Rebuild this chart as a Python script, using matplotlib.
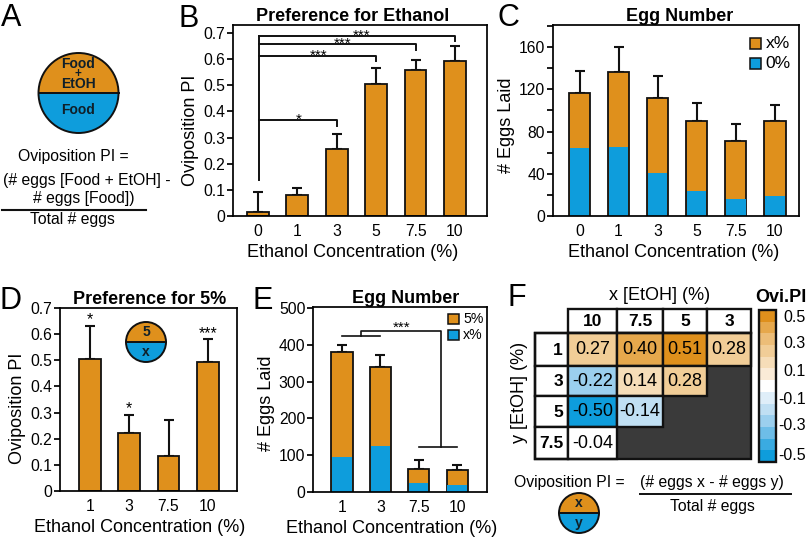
import numpy as np
import matplotlib
matplotlib.use('Agg')
import matplotlib.pyplot as plt
from matplotlib.colors import ListedColormap, BoundaryNorm
from matplotlib.patches import Circle, Wedge, Rectangle

plt.rcParams['font.family'] = ['Liberation Sans', 'DejaVu Sans']

W, H = 807, 537
ORANGE = '#DF901C'
BLUE = '#0E9DDC'
DARK = '#111111'

# panel B
conc_b = ['0', '1', '3', '5', '7.5', '10']
pref_b = [0.015, 0.08, 0.255, 0.505, 0.558, 0.592]
pref_b_err = [0.078, 0.028, 0.06, 0.06, 0.038, 0.06]

# panel C
eggs_total_c = [116, 136, 112, 90, 71, 90]
eggs_zero_c = [64, 65, 41, 24, 16, 19]
eggs_err_c = [21, 24, 21, 17, 16, 15]

# panel D
conc_d = ['1', '3', '7.5', '10']
pref_d = [0.505, 0.22, 0.135, 0.495]
pref_d_err = [0.125, 0.072, 0.135, 0.085]
stars_d = ['*', '*', '', '***']

# panel E
eggs_total_e = [380, 340, 63, 60]
eggs_x_e = [95, 125, 25, 18]
eggs_err_e = [20, 33, 25, 14]

# panel F
x_labels = ['10', '7.5', '5', '3']
y_labels = ['1', '3', '5', '7.5']
pi_values = [[0.27, 0.40, 0.51, 0.28],
             [-0.22, 0.14, 0.28, None],
             [-0.50, -0.14, None, None],
             [-0.04, None, None, None]]
cbar_ticks = [0.5, 0.3, 0.1, -0.1, -0.3, -0.5]
cbar_colors = ['#0E9DDC', '#3AABE1', '#6DBDE8', '#9BCFEE', '#C0DFF3', '#DFEEF9', '#FFFFFF',
               '#FAEBD7', '#F6DDB8', '#F1CD97', '#ECBD78', '#E6A84C', '#DF901C']


def px_axes(left, top, right, bottom):
    return fig.add_axes([left / W, 1 - bottom / H, (right - left) / W, (bottom - top) / H])


def style_axes(ax, ylabel, yticks, yticklabels, xlabel_x, ylabel_y, minor=None):
    for s in ax.spines.values():
        s.set_linewidth(1.25)
    ax.set_yticks(yticks)
    ax.set_yticklabels(yticklabels)
    if minor is not None:
        ax.set_yticks(minor, minor=True)
        ax.tick_params(axis='y', which='minor', width=1.25, length=4.5)
    ax.tick_params(axis='y', width=1.25, length=4.5, labelsize=11.3, pad=1)
    ax.tick_params(axis='x', length=0, labelsize=11.3, pad=6)
    ax.set_ylabel(ylabel, fontsize=13, labelpad=3, y=ylabel_y)
    ax.set_xlabel('Ethanol Concentration (%)', fontsize=13, labelpad=3.5, x=xlabel_x)


def error_up(ax, xs, tops, errs):
    ax.errorbar(xs, tops, yerr=[np.zeros(len(xs)), errs], fmt='none', ecolor=DARK,
                elinewidth=1.5, capsize=3.8, capthick=1.5, zorder=1)


def draw_plate(cx, cy, r, top_text, bottom_text, fs):
    # cx, cy in overlay pixel coordinates
    overlay.add_patch(Wedge((cx, cy), r, 180, 360, fc=ORANGE, ec='none'))
    overlay.add_patch(Wedge((cx, cy), r, 0, 180, fc=BLUE, ec='none'))
    overlay.add_patch(Circle((cx, cy), r, fc='none', ec=DARK, lw=1.4))
    overlay.plot([cx - r, cx + r], [cy, cy], color=DARK, lw=1.4)
    overlay.text(cx, cy - r * 0.5, top_text, ha='center', va='center', fontsize=fs,
                 fontweight='bold', color='#10202a')
    overlay.text(cx, cy + r * 0.5, bottom_text, ha='center', va='center', fontsize=fs,
                 fontweight='bold', color='#10202a')


def legend_box(top, bottom, left, right, colour):
    overlay.add_patch(Rectangle((left, top), right - left, bottom - top, fc=colour, ec=DARK, lw=1.1))


fig = plt.figure(figsize=(W / 100, H / 100), dpi=100)

# pixel overlay for the drawn bits of A and F, and panel letters
overlay = fig.add_axes([0, 0, 1, 1], zorder=5)
overlay.set_xlim(0, W)
overlay.set_ylim(H, 0)
overlay.axis('off')
overlay.patch.set_alpha(0)

for letter, lx, ly in [('A', 11, 18), ('B', 189, 19), ('C', 508, 18),
                       ('D', 11, 301), ('E', 263, 301), ('F', 517, 298)]:
    overlay.text(lx, ly, letter, fontsize=22, ha='center', va='center')

# A
draw_plate(78.5, 93, 40, '', '', 10)
for txt, ty, fs in [('Food', 64.5, 10), ('+', 74.5, 8.5), ('EtOH', 84.5, 10), ('Food', 110, 10)]:
    overlay.text(78, ty, txt, fontsize=fs, fontweight='bold', color='#10202a', ha='center', va='center')
overlay.text(73, 156, 'Oviposition PI =', fontsize=11.3, ha='center', va='center')
overlay.text(87, 180, '(# eggs [Food + EtOH] -', fontsize=11.3, ha='center', va='center')
overlay.text(84, 199, '# eggs [Food])', fontsize=11.3, ha='center', va='center')
overlay.plot([2, 146], [209.5, 209.5], color=DARK, lw=1.5)
overlay.text(72, 219.5, 'Total # eggs', fontsize=11.3, ha='center', va='center')

# B
ax = px_axes(233, 25, 487, 216)
x = np.arange(len(conc_b))
ax.bar(x, pref_b, width=0.55, color=ORANGE, edgecolor=DARK, linewidth=1.3, zorder=2)
error_up(ax, x, pref_b, pref_b_err)
ax.set_xlim(-0.63, 5.81)
ax.set_ylim(0, 0.7 * 191 / 183)
ax.set_xticks(x)
ax.set_xticklabels(conc_b)
style_axes(ax, 'Oviposition PI', np.arange(0, 0.71, 0.1),
           ['0', '0.1', '0.2', '0.3', '0.4', '0.5', '0.6', '0.7'], 0.472, 0.45)
ax.set_title('Preference for Ethanol', fontsize=13, fontweight='bold', pad=3, x=0.472)
ax.plot([0.03, 0.03], [0.138, 0.69], color=DARK, lw=1.4)
for end, level, star_x, star_txt in [(5, 0.69, 2.64, '***'), (4, 0.658, 2.15, '***'),
                                     (3, 0.613, 1.55, '***'), (2, 0.367, 1.04, '*')]:
    ax.plot([0.03, end, end], [level, level, level - 0.022], color=DARK, lw=1.4)
    ax.text(star_x, level - 0.026, star_txt, ha='center', va='bottom', fontsize=11)

# C
ax = px_axes(553, 25, 799, 216)
ax.bar(x, eggs_total_c, width=0.55, color=ORANGE, edgecolor=DARK, linewidth=1.3, zorder=2)
ax.bar(x, eggs_zero_c, width=0.5, color=BLUE, zorder=2.1)
error_up(ax, x, eggs_total_c, eggs_err_c)
ax.set_xlim(-0.68, 5.62)
ax.set_ylim(0, 160 * 191 / 169)
ax.set_xticks(x)
ax.set_xticklabels(conc_b)
style_axes(ax, '# Eggs Laid', [0, 40, 80, 120, 160], ['0', '40', '80', '120', '160'], 0.49, 0.476,
           minor=[20, 60, 100, 140, 180])
ax.set_title('Egg Number', fontsize=13, fontweight='bold', pad=3, x=0.516)
legend_box(38, 49, 750, 761, ORANGE)
legend_box(58, 69, 750, 761, BLUE)
overlay.text(766, 43, 'x%', fontsize=12.5, va='center')
overlay.text(765, 64, '0%', fontsize=12.5, va='center')

# D
ax = px_axes(60, 308, 237, 491)
x = np.arange(len(conc_d))
ax.bar(x, pref_d, width=0.55, color=ORANGE, edgecolor=DARK, linewidth=1.3, zorder=2)
error_up(ax, x, pref_d, pref_d_err)
for xi, top, err, star_txt in zip(x, pref_d, pref_d_err, stars_d):
    ax.text(xi, top + err - 0.005, star_txt, ha='center', va='bottom', fontsize=11.5)
ax.set_xlim(-0.76, 3.74)
ax.set_ylim(0, 0.7)
ax.set_xticks(x)
ax.set_xticklabels(conc_d)
style_axes(ax, 'Oviposition PI', np.arange(0, 0.71, 0.1),
           ['0', '0.1', '0.2', '0.3', '0.4', '0.5', '0.6', '0.7'], 0.449, 0.454)
ax.set_title('Preference for 5%', fontsize=13, fontweight='bold', pad=3, x=0.508)
draw_plate(146, 342, 20, '5', 'x', 10)

# E
ax = px_axes(313, 307, 487, 492)
x = np.arange(len(conc_d))
ax.bar(x, eggs_total_e, width=0.55, color=ORANGE, edgecolor=DARK, linewidth=1.3, zorder=2)
ax.bar(x, eggs_x_e, width=0.5, color=BLUE, zorder=2.1)
error_up(ax, x, eggs_total_e, eggs_err_e)
ax.set_xlim(-0.755, 3.78)
ax.set_ylim(0, 503)
ax.set_xticks(x)
ax.set_xticklabels(conc_d)
style_axes(ax, '# Eggs Laid', [0, 100, 200, 300, 400, 500], ['0', '100', '200', '300', '400', '500'], 0.45, 0.48)
ax.set_title('Egg Number', fontsize=13, fontweight='bold', pad=3, x=0.534)
ax.plot([0.0, 1.0], [424, 424], color=DARK, lw=1.2)
ax.plot([2.0, 3.0], [122, 122], color=DARK, lw=1.2)
ax.plot([0.5, 0.5, 2.57, 2.57], [424, 437, 437, 122], color=DARK, lw=1.2)
ax.text(1.56, 427, '***', ha='center', va='bottom', fontsize=11)
legend_box(314, 324, 448, 459, ORANGE)
legend_box(330, 340, 448, 459, BLUE)
overlay.text(463, 319, '5%', fontsize=10.2, va='center')
overlay.text(463, 335, 'x%', fontsize=10.2, va='center')

# F heat table
cmap = ListedColormap(cbar_colors)
bounds = np.linspace(-0.55, 0.55, len(cbar_colors) + 1)
norm = BoundaryNorm(bounds, cmap.N)
col_edges = [568, 617, 663, 707, 751]
row_edges = [333, 366, 396, 427, 459]
overlay.text(660, 296, 'x [EtOH] (%)', fontsize=13, ha='center', va='center')
overlay.text(806, 297, 'Ovi.PI', fontsize=13, fontweight='bold', ha='right', va='center')
overlay.text(520, 392, 'y [EtOH] (%)', fontsize=13, rotation=90, ha='center', va='center')
overlay.add_patch(Rectangle((617, 366), 134, 93, fc='#3A3A3A', ec='none'))
overlay.add_patch(Rectangle((568, 427), 183, 32, fc='#3A3A3A', ec='none'))
for c, lab in enumerate(x_labels):
    l, r = col_edges[c], col_edges[c + 1]
    overlay.add_patch(Rectangle((l, 309), r - l, 24, fc='white', ec=DARK, lw=1.7))
    overlay.text((l + r) / 2, 322, lab, fontsize=12.5, fontweight='bold', ha='center', va='center')
for i, lab in enumerate(y_labels):
    t, b = row_edges[i], row_edges[i + 1]
    overlay.add_patch(Rectangle((535, t), 33, b - t, fc='white', ec=DARK, lw=1.7))
    overlay.text(563, (t + b) / 2 + 1, lab, fontsize=12.5, fontweight='bold', ha='right', va='center')
    for c, val in enumerate(pi_values[i]):
        if val is None:
            continue
        l, r = col_edges[c], col_edges[c + 1]
        overlay.add_patch(Rectangle((l, t), r - l, b - t, fc=cmap(norm(val)), ec=DARK, lw=1.7))
        overlay.text((l + r) / 2, (t + b) / 2, f'{val:.2f}', fontsize=13, ha='center', va='center')
overlay.add_patch(Rectangle((535, 333), 216, 126, fc='none', ec=DARK, lw=1.7))

# colour bar
seg_h = (462 - 310) / len(cbar_colors)
for k, colour in enumerate(cbar_colors):
    overlay.add_patch(Rectangle((759, 462 - (k + 1) * seg_h), 17, seg_h, fc=colour, ec='none'))
overlay.add_patch(Rectangle((759, 310), 17, 152, fc='none', ec=DARK, lw=1.7))
for tick, ty in zip(cbar_ticks, [318, 344, 372, 399, 426, 455]):
    overlay.text(806, ty, f'{tick:.1f}', fontsize=11.5, ha='right', va='center')

# formula under F
overlay.text(625, 482, 'Oviposition PI =', fontsize=11.3, ha='right', va='center')
overlay.text(712, 482, '(# eggs x - # eggs y)', fontsize=11.3, ha='center', va='center')
overlay.plot([640, 791], [494, 494], color=DARK, lw=1.4)
overlay.text(712, 506, 'Total # eggs', fontsize=11.3, ha='center', va='center')
draw_plate(579, 513, 20, 'x', 'y', 10)

fig.savefig('out.png', dpi=100)
